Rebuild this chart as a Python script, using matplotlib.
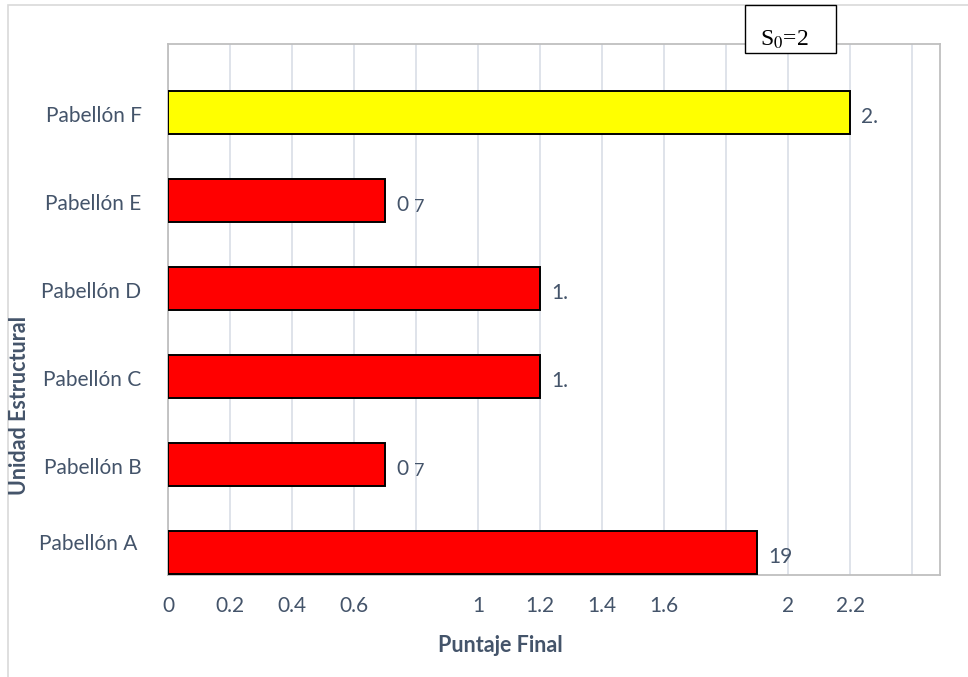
import matplotlib.pyplot as plt
from matplotlib.patches import Rectangle

# Puntaje final por unidad estructural
pabellones = ["Pabellón A", "Pabellón B", "Pabellón C", "Pabellón D", "Pabellón E", "Pabellón F"]
puntajes = [1.9, 0.7, 1.2, 1.2, 0.7, 2.2]
etiquetas = ["19", "0", "1.", "1.", "0", "2."]
colores = ["#FF0000", "#FF0000", "#FF0000", "#FF0000", "#FF0000", "#FFFF00"]

ticks_x = [0, 0.2, 0.4, 0.6, 0.8, 1.0, 1.2, 1.4, 1.6, 1.8, 2.0, 2.2, 2.4]
ticks_x_txt = ["0", "0.2", "0.4", "0.6", "", "1", "1.2", "1.4", "1.6", "", "2", "2.2", ""]

texto = "#44546A"
plt.rcParams['font.family'] = ['Lato', 'DejaVu Sans']

fig = plt.figure(figsize=(9.68, 6.77), dpi=100)
ax = fig.add_axes([168 / 968, 102 / 677, 772 / 968, 531 / 677])

y = list(range(len(pabellones)))
ax.barh(y, puntajes, height=0.49, color=colores, edgecolor="black", linewidth=1.4, zorder=3)

for i, (v, t) in enumerate(zip(puntajes, etiquetas)):
    ax.annotate(t, (v, i), xytext=(8, -3.5), textcoords="offset points",
                ha="left", va="center", fontsize=15, color=texto)
    if t == "0":
        ax.annotate("7", (v, i), xytext=(20.5, -5), textcoords="offset points",
                    ha="left", va="center", fontsize=13, color=texto)

# etiquetas de categoría
for i, nombre in enumerate(pabellones):
    dy = 6 if i == 0 else -2.5
    dx = -22 if i == 0 else -19
    ax.annotate(nombre, (0, i), xytext=(dx, dy), textcoords="offset points",
                ha="right", va="center", fontsize=15, color=texto, annotation_clip=False)

ax.set_xlim(0, 2.49)
ax.set_ylim(-0.26, 5.78)
ax.set_xticks(ticks_x)
ax.set_xticklabels(ticks_x_txt)
ax.set_yticks(y)
ax.set_yticklabels([])
ax.tick_params(axis="x", length=0, pad=15, labelsize=15, labelcolor=texto)
ax.tick_params(axis="y", length=0)

ax.grid(axis="x", color="#D9DEE6", linewidth=1.2, zorder=0)
for s in ax.spines.values():
    s.set_color("#BFBFBF")
    s.set_linewidth(1.3)

fig.text(500 / 968, 1 - 645 / 677, "Puntaje Final", ha="center", va="center",
         fontsize=15.5, fontweight="bold", color=texto)
fig.text(20 / 968, 1 - 405 / 677, "Unidad Estructural", ha="center", va="center",
         rotation=90, fontsize=15.5, fontweight="bold", color=texto)

# marco exterior del gráfico
fig.patches.append(Rectangle((8 / 968, -0.1), 1.2, 0.1 + 1 - 5 / 677, transform=fig.transFigure,
                             fill=False, edgecolor="#D9D9D9", linewidth=1.2))

# recuadro S0
fig.patches.append(Rectangle((745 / 968, 1 - 53 / 677), 91 / 968, 48 / 677, transform=fig.transFigure,
                             facecolor="white", edgecolor="black", linewidth=1.0, zorder=5))
fig.text(784 / 968, 1 - 40 / 677, r"S$_0$=2", ha="center", va="center", fontsize=17,
         family="Liberation Serif", color="black", zorder=6,
         math_fontfamily="stix")

fig.savefig("out.png", dpi=100)
